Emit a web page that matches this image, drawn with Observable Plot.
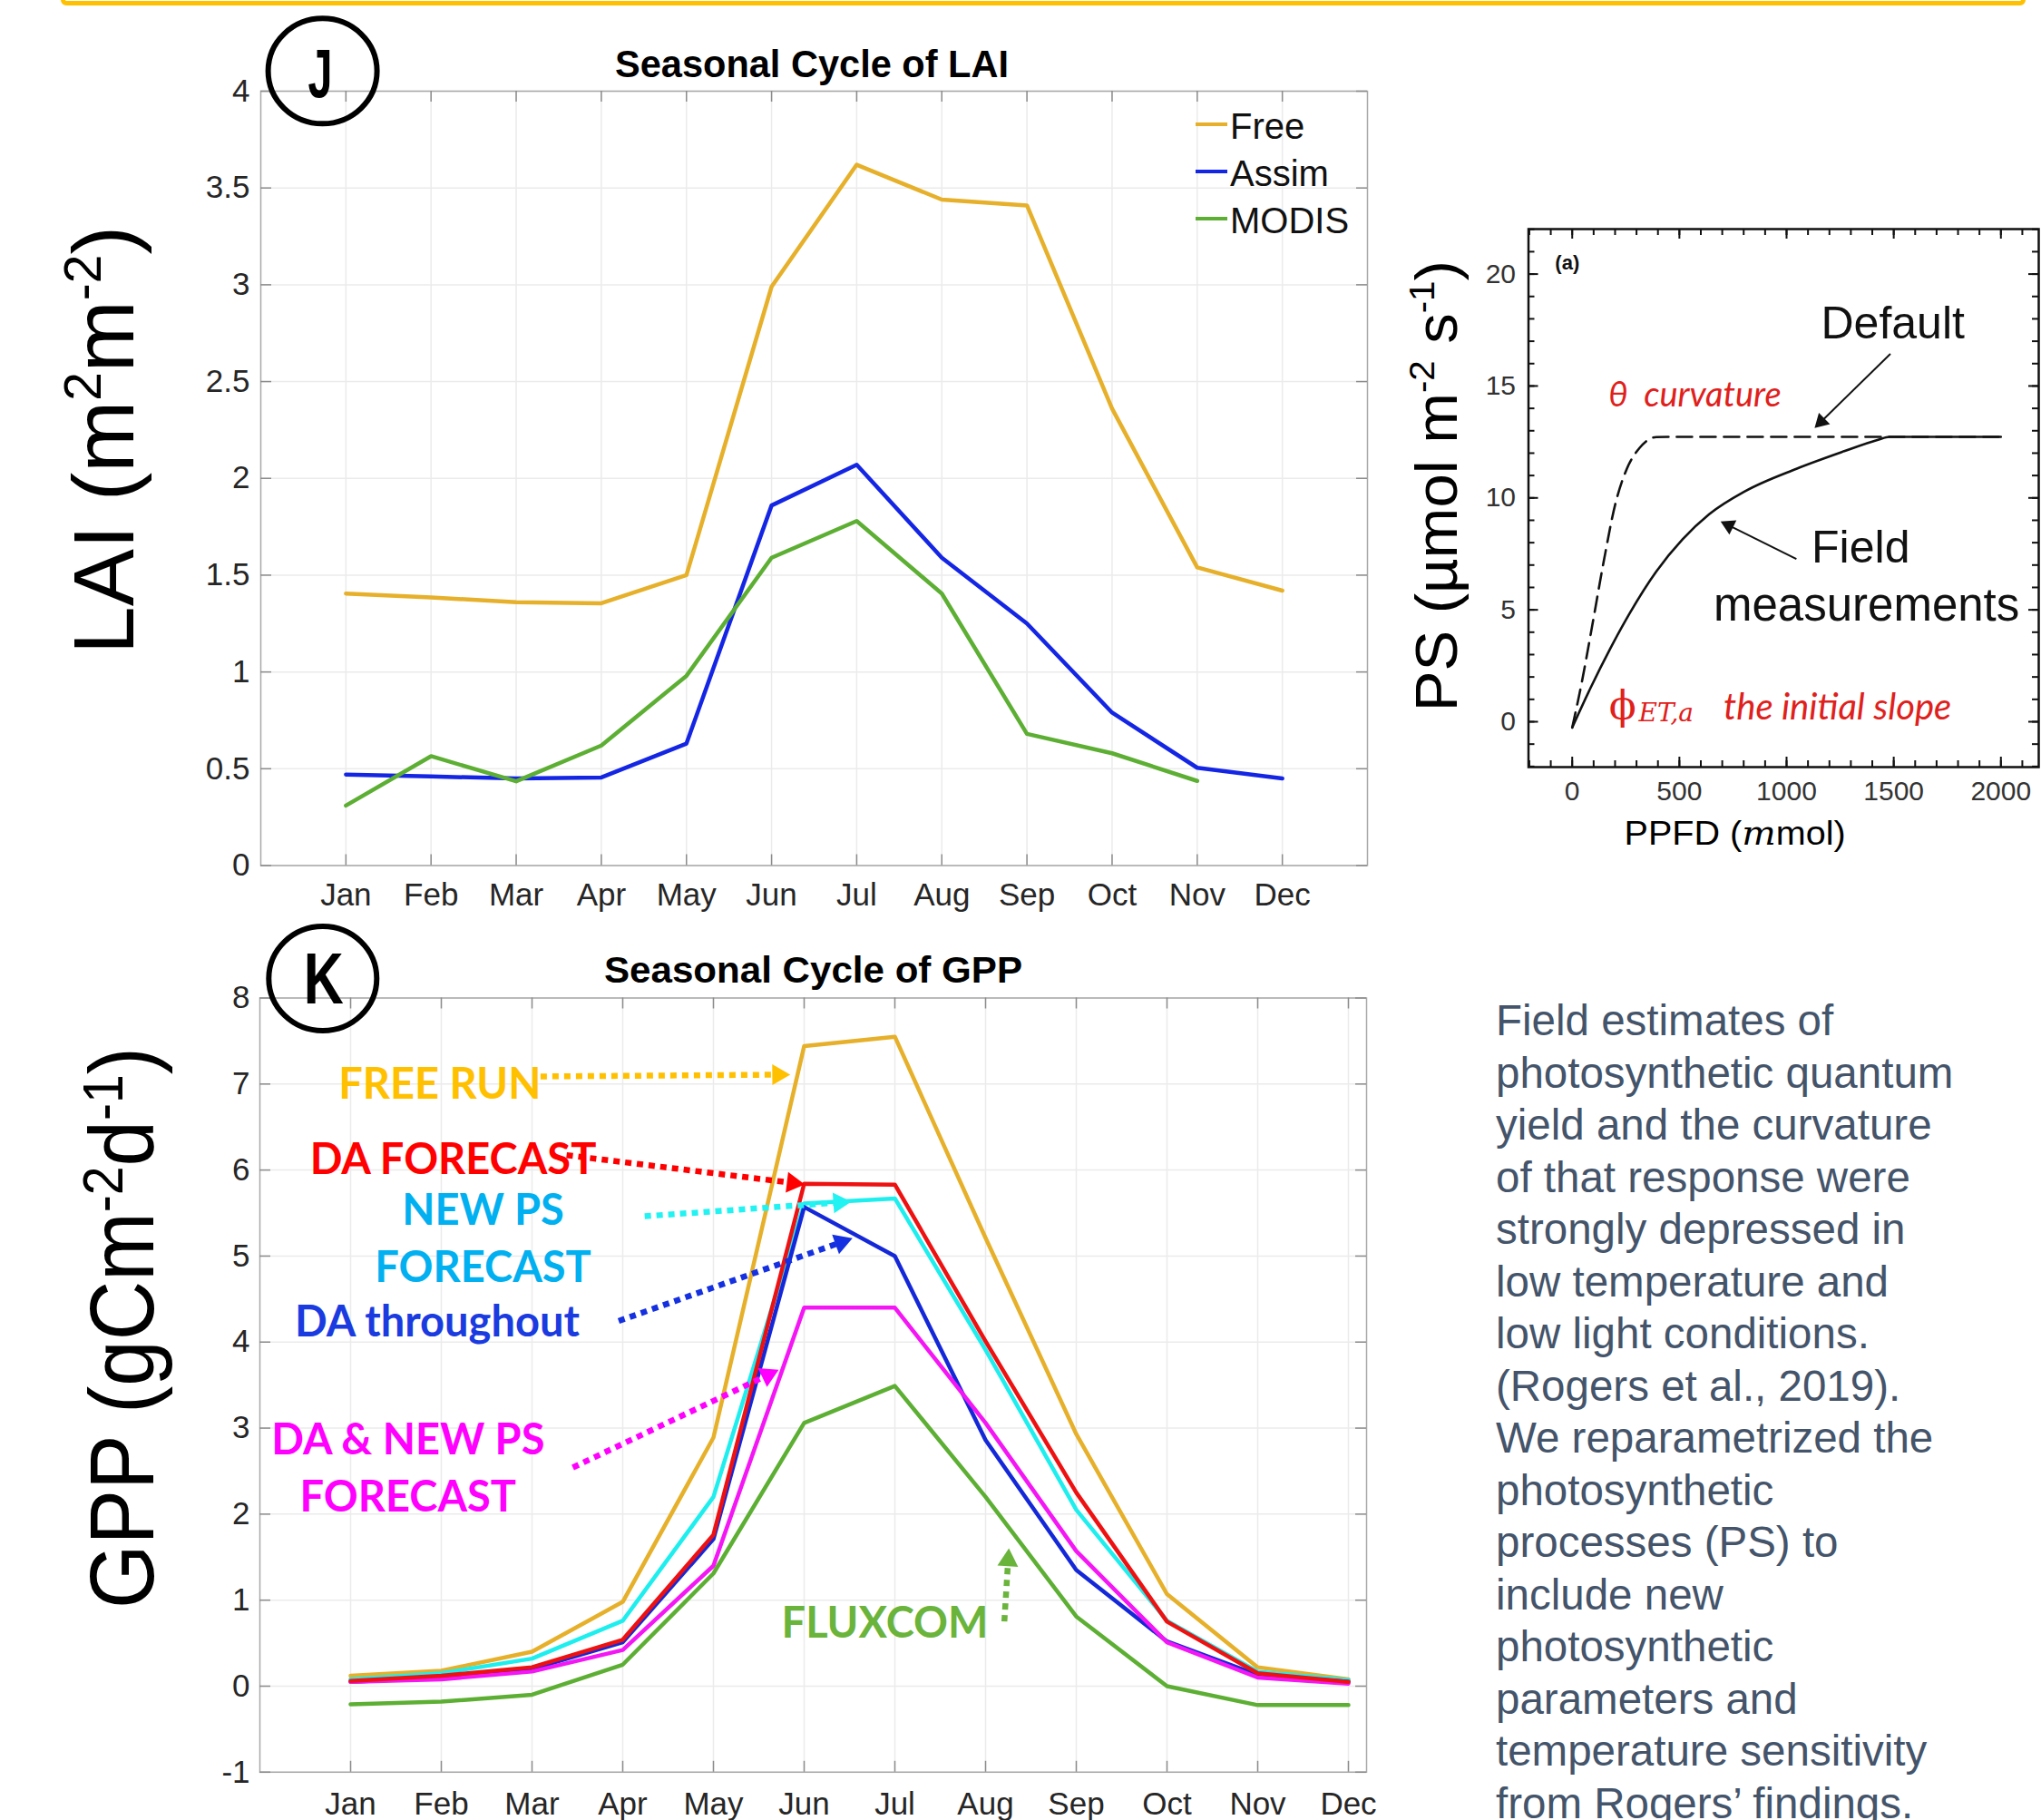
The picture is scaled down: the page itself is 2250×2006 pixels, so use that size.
<!DOCTYPE html>
<html>
<head>
<meta charset="utf-8">
<script src="https://cdn.jsdelivr.net/npm/d3@7"></script>
<script src="https://cdn.jsdelivr.net/npm/@observablehq/plot@0.6"></script>
<style>
html, body { margin:0; padding:0; background:#fff; }
#page { position:relative; width:2250px; height:2006px; overflow:hidden; background:#fff; }
.panel { position:absolute; }
.panel svg { display:block; max-width:none; }
#border { position:absolute; left:67px; top:-50px; width:2166px; height:56px; box-sizing:border-box; border:5px solid #ffc000; border-radius:6px; }
#note { position:absolute; left:1649px; top:1096px; font-family:"Liberation Sans", Arial, sans-serif; font-size:47.5px; line-height:57.5px; color:#44546a; white-space:nowrap; }
#overlay { position:absolute; left:0; top:0; pointer-events:none; }
</style>
</head>
<body>
<div id="page">
  <div id="border"></div>
  <div id="lai" class="panel" style="left:0px;top:0px;width:1540px;height:1010px"></div>
  <div id="ps" class="panel" style="left:1540px;top:200px;width:710px;height:760px"></div>
  <div id="gpp" class="panel" style="left:0px;top:1000px;width:1540px;height:1006px"></div>
  <div id="note"></div>
</div>
<script>
// ---------------- DATA ----------------
const months = ["Jan","Feb","Mar","Apr","May","Jun","Jul","Aug","Sep","Oct","Nov","Dec"];
const monthNums = [1,2,3,4,5,6,7,8,9,10,11,12];

// Panel J: Seasonal cycle of LAI
const laiSeries = ["Free", "Assim", "MODIS"];
const laiFree  = [1.405, 1.385, 1.36, 1.355, 1.50, 2.99, 3.62, 3.44, 3.41, 2.36, 1.54, 1.42];
const laiAssim = [0.47, 0.46, 0.45, 0.455, 0.63, 1.86, 2.07, 1.59, 1.25, 0.79, 0.505, 0.45];
const laiModis = [0.31, 0.565, 0.435, 0.62, 0.98, 1.59, 1.78, 1.405, 0.68, 0.58, 0.437];
const laiYTicks = [0, 0.5, 1, 1.5, 2, 2.5, 3, 3.5, 4];

// Panel K: Seasonal cycle of GPP
const gppSeries = ["FREE RUN", "DA FORECAST", "NEW PS FORECAST", "DA throughout", "DA & NEW PS FORECAST", "FLUXCOM"];
const gppFree      = [0.12, 0.18, 0.40, 0.98, 2.89, 7.44, 7.55, 5.21, 2.93, 1.07, 0.22, 0.08];
const gppDA        = [0.06, 0.12, 0.22, 0.54, 1.76, 5.84, 5.83, 4.01, 2.25, 0.75, 0.15, 0.05];
const gppNewPS     = [0.08, 0.15, 0.32, 0.76, 2.20, 5.61, 5.67, 3.91, 2.05, 0.76, 0.17, 0.07];
const gppDAthrough = [0.05, 0.10, 0.20, 0.51, 1.71, 5.57, 5.00, 2.86, 1.35, 0.52, 0.13, 0.05];
const gppDANewPS   = [0.05, 0.08, 0.17, 0.42, 1.40, 4.40, 4.40, 3.06, 1.57, 0.51, 0.10, 0.03];
const gppFluxcom   = [-0.21, -0.18, -0.10, 0.25, 1.31, 3.06, 3.49, 2.20, 0.81, 0.00, -0.22, -0.22];
const gppYTicks = [-1, 0, 1, 2, 3, 4, 5, 6, 7, 8];

// GPP annotations (month, GPP units)
const gppNoteText   = ["FREE RUN", "DA FORECAST", "NEW PS", "FORECAST", "DA throughout", "DA & NEW PS", "FORECAST", "FLUXCOM"];
const gppNoteSeries = [0, 1, 2, 2, 3, 4, 4, 5];
const gppNoteMonth  = [1.983, 2.13, 2.46, 2.46, 1.955, 1.633, 1.633, 6.89];
const gppNoteValue  = [6.99, 6.112, 5.524, 4.86, 4.224, 2.858, 2.186, 0.726];
const gppArrowFrom  = [[3.094, 7.088], [3.381, 6.173], [4.242, 5.463], [3.955, 4.245], [3.45, 2.542], [8.207, 0.753]];
const gppArrowTo    = [[5.847, 7.11], [6.007, 5.833], [6.52, 5.632], [6.533, 5.207], [5.72, 3.677], [8.257, 1.604]];

// Panel (a): light response PS vs PPFD
const ppfdDefault = [0, 46, 92, 146, 200, 254, 315, 392, 454, 2000];
const psDefault   = [-0.26, 1.82, 4.22, 7.11, 9.68, 11.28, 12.24, 12.72, 12.73, 12.73];
const ppfdField   = [0, 85, 177, 269, 392, 515, 639, 807, 1046, 1258, 1427, 1480, 2000];
const psField     = [-0.26, 1.5, 3.26, 4.86, 6.71, 8.15, 9.27, 10.3, 11.3, 12.05, 12.6, 12.73, 12.73];
const ppfdTicks = [0, 500, 1000, 1500, 2000];
const psTicks = [0, 5, 10, 15, 20];
const psNoteText = ["(a)", "Default", "Field", "measurements"];
const psNoteX = [-23, 1496, 1346, 1373];
const psNoteY = [20.49, 17.77, 7.76, 5.20];
const psRedText = ["θ  curvature", "ϕ", "ET,a", "the initial slope"];
const psRedX = [169, 172, 310, 706];
const psRedY = [14.58, 0.68, 0.365, 0.62];
const psArrowFrom = [[1484.6, 16.44], [1046, 7.27]];
const psArrowTo   = [[1130.8, 13.12], [692.3, 8.95]];

const noteLines = [
  "Field estimates of",
  "photosynthetic quantum",
  "yield and the curvature",
  "of that response were",
  "strongly depressed in",
  "low temperature and",
  "low light conditions.",
  "(Rogers et al., 2019).",
  "We reparametrized the",
  "photosynthetic",
  "processes (PS) to",
  "include new",
  "photosynthetic",
  "parameters and",
  "temperature sensitivity",
  "from Rogers’ findings."
];

// ---------------- STYLES ----------------
const laiColors = ["#e6b02a", "#1426e4", "#5daf34"];
const gppLineColors = ["#e6b02a", "#ee1111", "#1eeeee", "#1428d8", "#f416f4", "#5daf34"];
const gppNoteColors = ["#ffc000", "#ff0000", "#00b0f0", "#1a3be0", "#ff00ff", "#6ab43c"];
const gppArrowColors = ["#ffc000", "#ff0000", "#22f2f2", "#1530e0", "#ff00ff", "#6ab43c"];
const SANS = '"Liberation Sans", Arial, sans-serif';

function arrowParts(from, to, kx, ky, r) {
  const dx = (to[0] - from[0]) * kx, dy = -(to[1] - from[1]) * ky;
  const L = Math.hypot(dx, dy), ux = dx / L, uy = dy / L;
  const c = 1.555 * r, b = 2.0 * r;
  return {
    x1: from[0], y1: from[1],
    x2: to[0] - b * ux / kx, y2: to[1] + b * uy / ky,
    hx: to[0] - c * ux / kx, hy: to[1] + c * uy / ky,
    rot: Math.atan2(uy, ux) * 180 / Math.PI + 90
  };
}
function boxTicks(xt, yt, xd, yd, kx, ky, len, stroke, sw) {
  return [
    Plot.ruleX(xt, {x: d => d, y1: yd[0], y2: yd[0] + len / ky, stroke, strokeWidth: sw}),
    Plot.ruleX(xt, {x: d => d, y1: yd[1] - len / ky, y2: yd[1], stroke, strokeWidth: sw}),
    Plot.ruleY(yt, {y: d => d, x1: xd[0], x2: xd[0] + len / kx, stroke, strokeWidth: sw}),
    Plot.ruleY(yt, {y: d => d, x1: xd[1] - len / kx, x2: xd[1], stroke, strokeWidth: sw})
  ];
}

// ---------------- PANEL J: LAI ----------------
{
  const dim = {w: 1540, h: 1010, ml: 287, mr: 33, mt: 100, mb: 56.5};
  const xd = [0, 13], yd = [0, 4];
  const kx = (dim.w - dim.ml - dim.mr) / (xd[1] - xd[0]);
  const ky = (dim.h - dim.mt - dim.mb) / (yd[1] - yd[0]);
  const vals = [laiFree, laiAssim, laiModis];
  const lines = vals.map((arr, k) => Plot.line(arr.map((v, i) => ({month: i + 1, value: v})),
    {x: "month", y: "value", stroke: laiColors[k], strokeWidth: 4.5, strokeLinejoin: "round"}));
  const chart = Plot.plot({
    width: dim.w, height: dim.h,
    marginLeft: dim.ml, marginRight: dim.mr, marginTop: dim.mt, marginBottom: dim.mb,
    style: {fontFamily: SANS, fontSize: "35px", color: "#262626", background: "transparent", overflow: "visible"},
    x: {domain: xd, ticks: monthNums, tickFormat: d => months[d - 1], tickSize: 0, tickPadding: 19, label: null},
    y: {domain: yd, ticks: laiYTicks, tickFormat: d => String(d), tickSize: 0, tickPadding: 12, label: null},
    marks: [
      Plot.ruleX(monthNums, {x: d => d, stroke: "#ebebeb", strokeWidth: 1.5}),
      Plot.ruleY(laiYTicks, {y: d => d, stroke: "#ebebeb", strokeWidth: 1.5}),
      Plot.frame({stroke: "#a8a8a8", strokeWidth: 1.5}),
      ...boxTicks(monthNums, laiYTicks, xd, yd, kx, ky, 12, "#8c8c8c", 1.5),
      ...lines
    ]
  });
  document.getElementById("lai").append(chart);
}

// ---------------- PANEL K: GPP ----------------
{
  const dim = {w: 1540, h: 1006, ml: 286, mr: 34, mt: 99.5, mb: 53.2};
  const xd = [0, 12.2], yd = [-1, 8];
  const kx = (dim.w - dim.ml - dim.mr) / (xd[1] - xd[0]);
  const ky = (dim.h - dim.mt - dim.mb) / (yd[1] - yd[0]);
  const vals = [gppFree, gppDA, gppNewPS, gppDAthrough, gppDANewPS, gppFluxcom];
  const order = [0, 2, 3, 4, 1, 5];
  const lines = order.map(k => Plot.line(vals[k].map((v, i) => ({month: i + 1, value: v})),
    {x: "month", y: "value", stroke: gppLineColors[k], strokeWidth: 4.5, strokeLinejoin: "round"}));
  const notes = gppNoteText.map((t, i) => Plot.text([t], {
    x: gppNoteMonth[i], y: gppNoteValue[i], text: d => d, fill: gppNoteColors[gppNoteSeries[i]],
    fontFamily: "Lato, 'Open Sans', sans-serif", fontWeight: "bold", fontSize: 47, textAnchor: "middle"
  }));
  const arrows = gppArrowFrom.flatMap((f, i) => {
    const a = arrowParts(f, gppArrowTo[i], kx, ky, 8.5);
    return [
      Plot.link([a], {x1: "x1", y1: "y1", x2: "x2", y2: "y2", stroke: gppArrowColors[i], strokeWidth: 6.5, strokeDasharray: "7,6"}),
      Plot.dot([a], {x: "hx", y: "hy", r: 8.5, symbol: "triangle", rotate: a.rot, fill: gppArrowColors[i], stroke: "none"})
    ];
  });
  const chart = Plot.plot({
    width: dim.w, height: dim.h,
    marginLeft: dim.ml, marginRight: dim.mr, marginTop: dim.mt, marginBottom: dim.mb,
    style: {fontFamily: SANS, fontSize: "35px", color: "#262626", background: "transparent", overflow: "visible"},
    x: {domain: xd, ticks: monthNums, tickFormat: d => months[d - 1], tickSize: 0, tickPadding: 22, label: null},
    y: {domain: yd, ticks: gppYTicks, tickFormat: d => String(d), tickSize: 0, tickPadding: 11, label: null},
    marks: [
      Plot.ruleX(monthNums, {x: d => d, stroke: "#ebebeb", strokeWidth: 1.5}),
      Plot.ruleY(gppYTicks, {y: d => d, stroke: "#ebebeb", strokeWidth: 1.5}),
      Plot.frame({stroke: "#a8a8a8", strokeWidth: 1.5}),
      ...boxTicks(monthNums, gppYTicks, xd, yd, kx, ky, 12, "#8c8c8c", 1.5),
      ...lines,
      ...notes,
      ...arrows
    ]
  });
  document.getElementById("gpp").append(chart);
}

// ---------------- PANEL (a): PS light response ----------------
{
  const dim = {w: 710, h: 760, ml: 144.5, mr: 3, mt: 52, mb: 115};
  const xd = [-204, 2176.5], yd = [-2.027, 22.01];
  const kx = (dim.w - dim.ml - dim.mr) / (xd[1] - xd[0]);
  const ky = (dim.h - dim.mt - dim.mb) / (yd[1] - yd[0]);
  const minorX = d3.range(-200, 2176, 100);
  const minorY = d3.range(-2, 22.01, 1);
  const defPts = ppfdDefault.map((x, i) => ({x, y: psDefault[i]}));
  const fieldPts = ppfdField.map((x, i) => ({x, y: psField[i]}));
  const arrows = psArrowFrom.flatMap((f, i) => {
    const a = arrowParts(f, psArrowTo[i], kx, ky, 6.5);
    return [
      Plot.link([a], {x1: "x1", y1: "y1", x2: "x2", y2: "y2", stroke: "#111", strokeWidth: 2}),
      Plot.dot([a], {x: "hx", y: "hy", r: 6.5, symbol: "triangle", rotate: a.rot, fill: "#111", stroke: "none"})
    ];
  });
  const blackNotes = psNoteText.map((t, i) => Plot.text([t], {
    x: psNoteX[i], y: psNoteY[i], text: d => d, fill: "#111", textAnchor: "middle",
    fontFamily: SANS, fontWeight: i === 0 ? "bold" : "normal", fontSize: i === 0 ? 22 : (i === 3 ? 51 : 50)
  }));
  const redStyles = [
    {fontFamily: "Lato, sans-serif", fontStyle: "italic", fontSize: 38},
    {fontFamily: "'DejaVu Serif', serif", fontStyle: "normal", fontSize: 44},
    {fontFamily: "'DejaVu Serif', serif", fontStyle: "italic", fontSize: 28},
    {fontFamily: "Lato, sans-serif", fontStyle: "italic", fontSize: 40}
  ];
  const redNotes = psRedText.map((t, i) => Plot.text([t], {
    x: psRedX[i], y: psRedY[i], text: d => d, fill: "#e0201b", textAnchor: "start", ...redStyles[i]
  }));
  const chart = Plot.plot({
    width: dim.w, height: dim.h,
    marginLeft: dim.ml, marginRight: dim.mr, marginTop: dim.mt, marginBottom: dim.mb,
    style: {fontFamily: SANS, fontSize: "30px", color: "#333", background: "transparent", overflow: "visible"},
    x: {domain: xd, ticks: ppfdTicks, tickFormat: d => String(d), tickSize: 0, tickPadding: 15, label: null},
    y: {domain: yd, ticks: psTicks, tickFormat: d => String(d), tickSize: 0, tickPadding: 14, label: null},
    marks: [
      ...boxTicks(minorX, minorY, xd, yd, kx, ky, 7, "#111", 2),
      ...boxTicks(ppfdTicks, psTicks, xd, yd, kx, ky, 11, "#111", 2),
      Plot.frame({stroke: "#111", strokeWidth: 2.5}),
      Plot.line(defPts, {x: "x", y: "y", curve: "monotone-x", stroke: "#111", strokeWidth: 2.6, strokeDasharray: "17,9"}),
      Plot.line(fieldPts, {x: "x", y: "y", curve: "monotone-x", stroke: "#111", strokeWidth: 2.6}),
      ...arrows,
      ...blackNotes,
      ...redNotes
    ]
  });
  document.getElementById("ps").append(chart);
}

// ---------------- Text block ----------------
document.getElementById("note").innerHTML = noteLines.map(l => l.replace(/&/g, "&amp;")).join("<br>");

// ---------------- Overlay: titles, panel letters, axis titles, legend ----------------
{
  const legendItems = laiSeries.map((s, i) => `
    <line x1="1318" x2="1353" y1="${137 + 52 * i}" y2="${137 + 52 * i}" stroke="${laiColors[i]}" stroke-width="4"/>
    <text x="1356" y="${153.3 + 51.7 * i}" font-size="40" fill="#111">${s}</text>`).join("");
  const svg = `
  <svg id="overlay" width="2250" height="2006" xmlns="http://www.w3.org/2000/svg" font-family='"Liberation Sans", Arial, sans-serif' fill="#000">
    <text x="895" y="84.8" text-anchor="middle" font-weight="bold" font-size="42" textLength="434" lengthAdjust="spacingAndGlyphs">Seasonal Cycle of LAI</text>
    <text x="896.5" y="1083.4" text-anchor="middle" font-weight="bold" font-size="41" textLength="461" lengthAdjust="spacingAndGlyphs">Seasonal Cycle of GPP</text>
    <ellipse cx="355.6" cy="78.3" rx="60" ry="58" fill="none" stroke="#000" stroke-width="6"/>
    <text x="353" y="107.3" text-anchor="middle" font-weight="bold" font-size="76" textLength="27" lengthAdjust="spacingAndGlyphs">J</text>
    <ellipse cx="355.8" cy="1078.5" rx="59.5" ry="57.5" fill="none" stroke="#000" stroke-width="6"/>
    <text x="356.8" y="1105.9" text-anchor="middle" font-weight="bold" font-size="80" textLength="44" lengthAdjust="spacingAndGlyphs">K</text>
    <text transform="translate(147,485) rotate(-90)" text-anchor="middle" font-size="95" textLength="472" lengthAdjust="spacingAndGlyphs">LAI (m<tspan font-size="57" dy="-36">2</tspan><tspan dy="36">m</tspan><tspan font-size="57" dy="-36">-2</tspan><tspan dy="36">)</tspan></text>
    <text transform="translate(168.6,1463.5) rotate(-90)" text-anchor="middle" font-size="100" textLength="619" lengthAdjust="spacingAndGlyphs">GPP (gCm<tspan font-size="63" dy="-34">-2</tspan><tspan dy="34">d</tspan><tspan font-size="63" dy="-34">-1</tspan><tspan dy="34">)</tspan></text>
    <text transform="translate(1605.6,535.7) rotate(-90)" text-anchor="middle" font-size="65" textLength="497" lengthAdjust="spacingAndGlyphs">PS (µmol m<tspan font-size="39" dy="-25">-2</tspan><tspan dy="25"> s</tspan><tspan font-size="39" dy="-25">-1</tspan><tspan dy="25">)</tspan></text>
    <text x="1912.6" y="931" text-anchor="middle" font-size="37" textLength="244" lengthAdjust="spacingAndGlyphs">PPFD (<tspan font-family="'DejaVu Serif', serif" font-style="italic">m</tspan>mol)</text>
    ${legendItems}
  </svg>`;
  document.getElementById("page").insertAdjacentHTML("beforeend", svg);
}
</script>
</body>
</html>
